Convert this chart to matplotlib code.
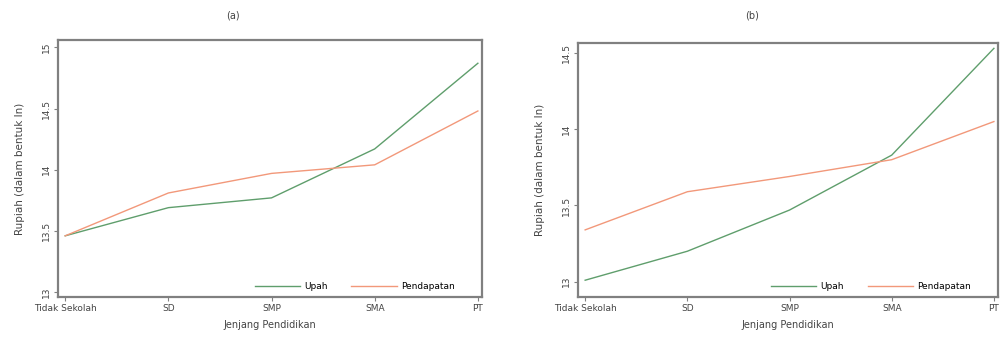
import matplotlib
matplotlib.use('Agg')
import matplotlib.pyplot as plt

jenjang = ['Tidak Sekolah', 'SD', 'SMP', 'SMA', 'PT']

# panel (a)
upah_a = [13.46, 13.69, 13.77, 14.17, 14.87]
pendapatan_a = [13.46, 13.81, 13.97, 14.04, 14.48]
yticks_a = [13, 13.5, 14, 14.5, 15]
ylabels_a = ['13', '13.5', '14', '14.5', '15']

# panel (b)
upah_b = [13.01, 13.20, 13.47, 13.83, 14.53]
pendapatan_b = [13.34, 13.59, 13.69, 13.80, 14.05]
yticks_b = [13, 13.5, 14, 14.5]
ylabels_b = ['13', '13.5', '14', '14.5']

green = '#5f9e6c'
orange = '#f2987a'
frame = '#808080'
txt = '#444444'

fig = plt.figure(figsize=(10, 3.42), dpi=100)
W, H = 1000, 342

def panel(left, top, right, bottom, upah, pend, yt, yl, ylim, title, title_x):
    ax = fig.add_axes([left / W, 1 - bottom / H, (right - left) / W, (bottom - top) / H])
    x = range(len(jenjang))
    ax.plot(x, upah, color=green, lw=1.0, label='Upah')
    ax.plot(x, pend, color=orange, lw=1.0, label='Pendapatan')
    ax.set_xlim(-0.07, 4.04)
    ax.set_ylim(*ylim)
    ax.set_xticks(list(x))
    ax.set_xticklabels(jenjang, fontsize=6.5, color=txt)
    ax.set_yticks(yt)
    ax.set_yticklabels(yl, fontsize=6.5, color=txt, rotation=90, va='center')
    for s in ax.spines.values():
        s.set_color(frame)
        s.set_linewidth(1.6)
    ax.tick_params(colors=frame, length=3, width=0.8, labelcolor=txt, pad=2)
    ax.set_xlabel('Jenjang Pendidikan', fontsize=7, color=txt, labelpad=5)
    ax.set_ylabel('Rupiah (dalam bentuk ln)', fontsize=7.5, color=txt, labelpad=12)
    fig.text(title_x / W, 1 - 16 / H, title, fontsize=7, color=txt, ha='center', va='center')
    ax.legend(loc='lower right', ncol=2, frameon=False, fontsize=6.5,
              handlelength=5, columnspacing=2.6, handletextpad=0.5,
              bbox_to_anchor=(0.955, -0.01))
    return ax

panel(58, 40, 482, 297, upah_a, pendapatan_a, yticks_a, ylabels_a, (12.96, 15.06), '(a)', 233)
panel(578, 43, 998, 297, upah_b, pendapatan_b, yticks_b, ylabels_b, (12.90, 14.565), '(b)', 752)

plt.savefig('out.png', dpi=100)
